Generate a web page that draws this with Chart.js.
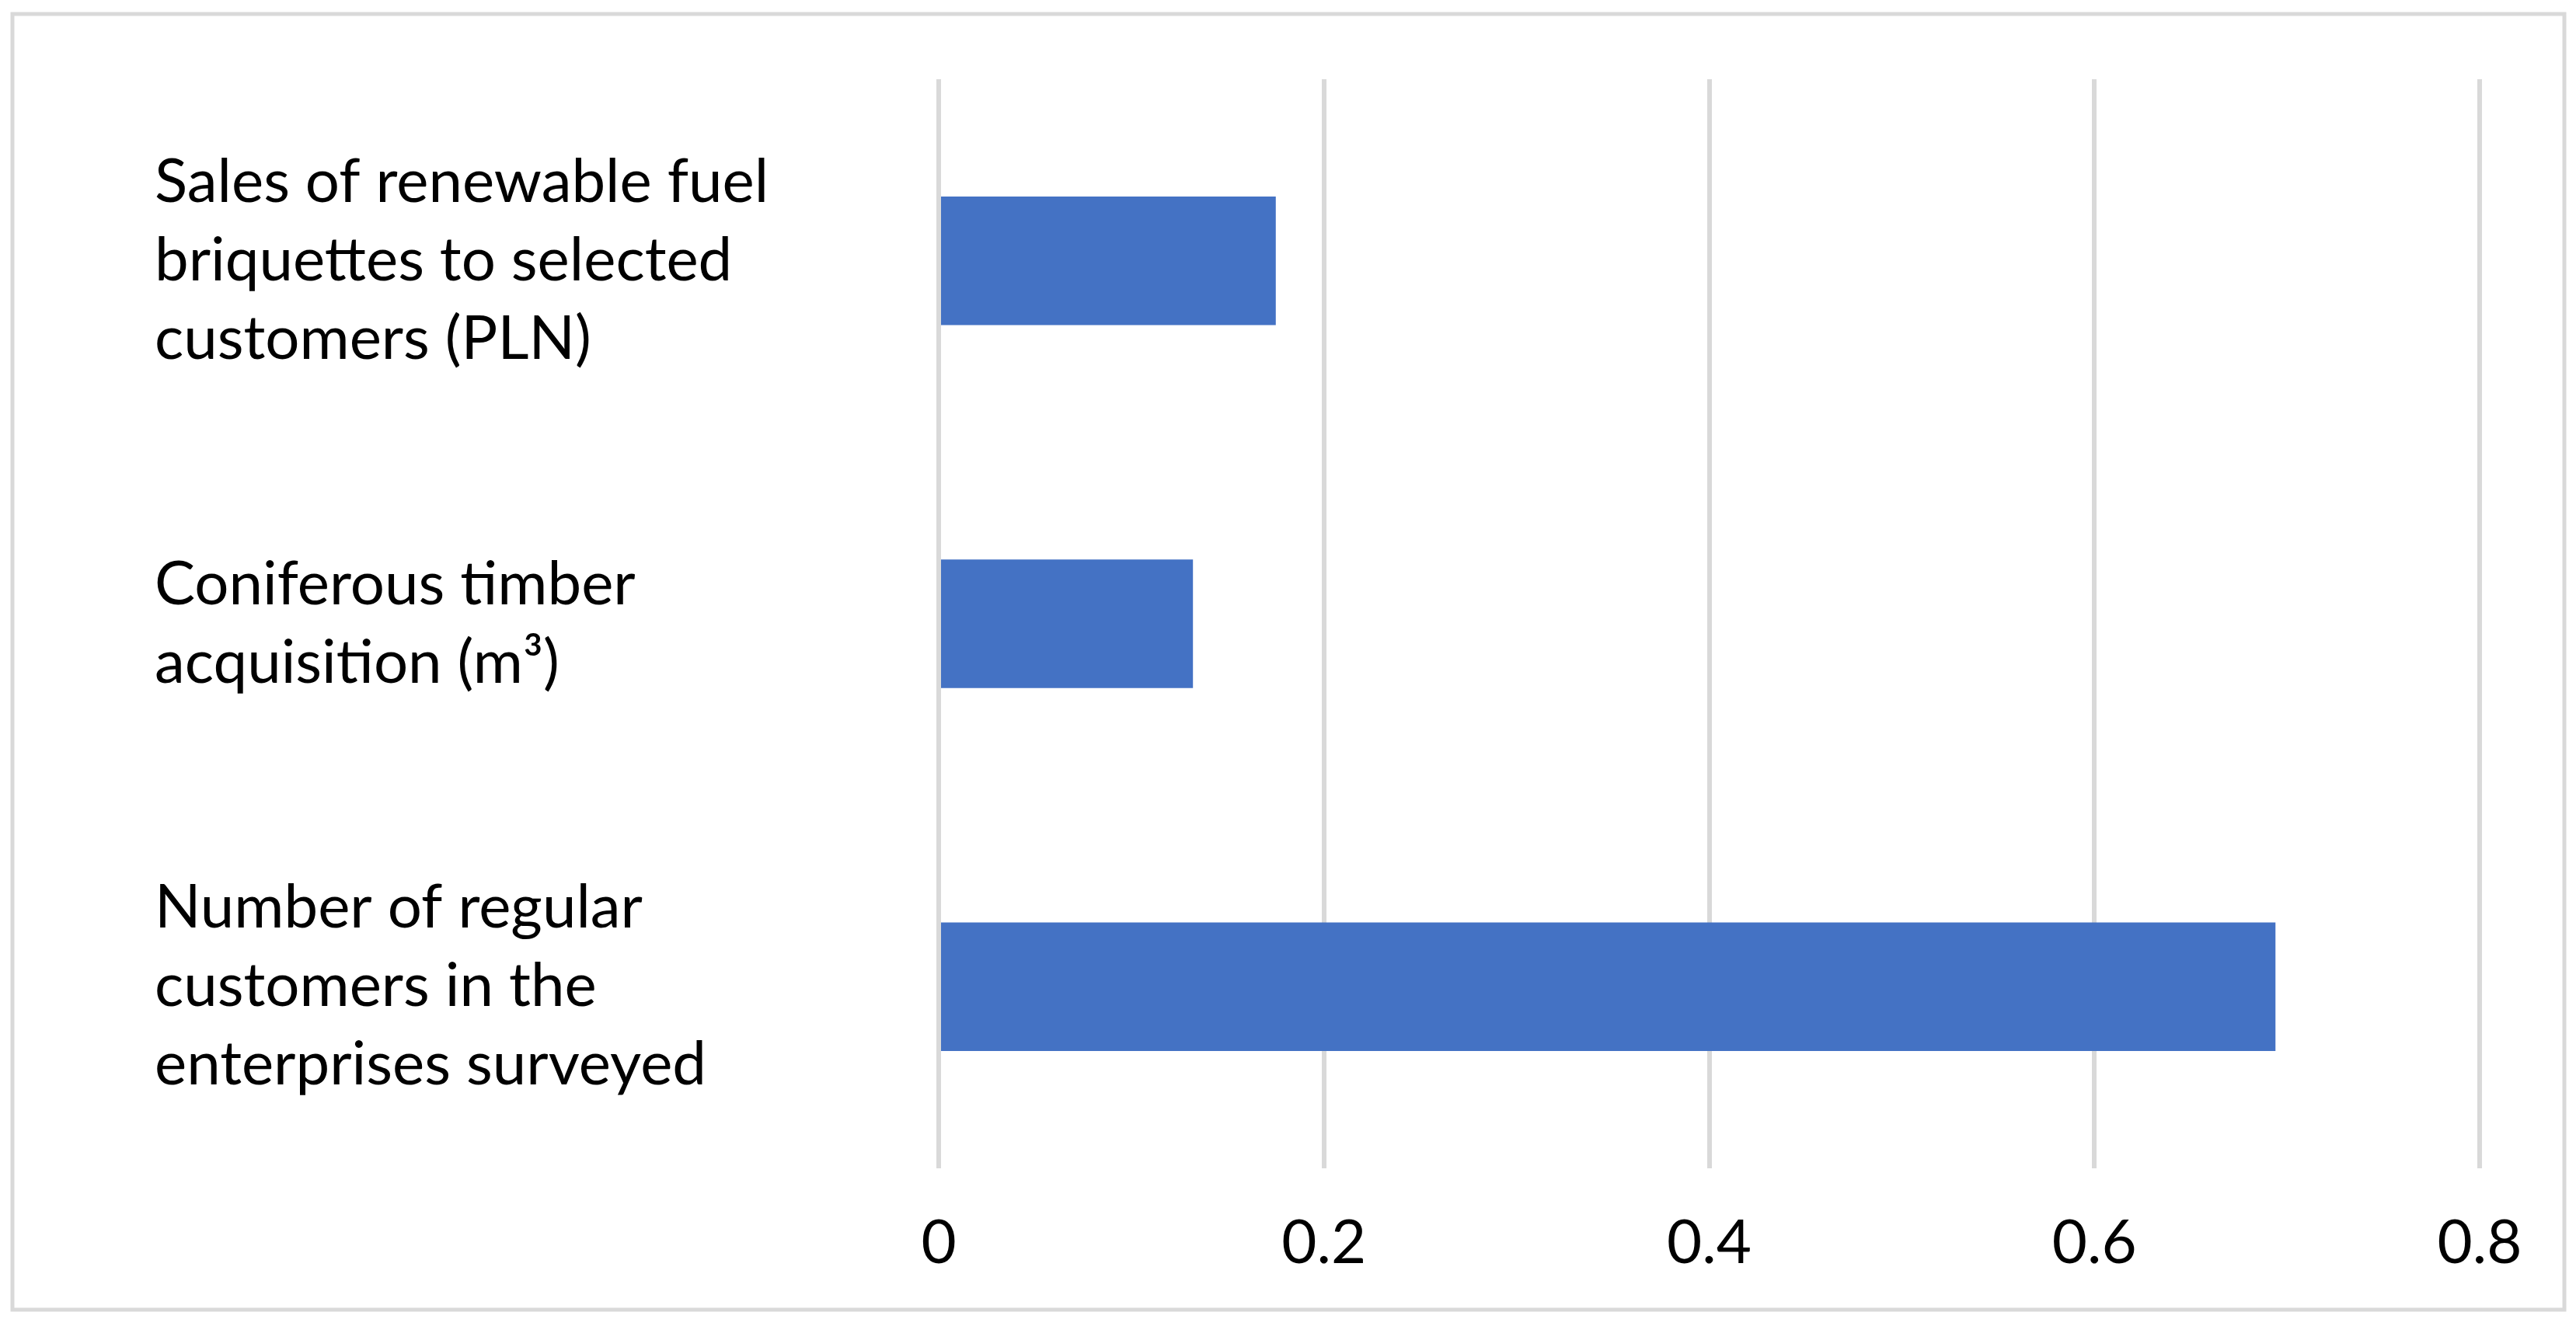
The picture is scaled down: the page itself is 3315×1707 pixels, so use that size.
<!DOCTYPE html>
<html>
<head>
<meta charset="utf-8">
<script src="https://cdn.jsdelivr.net/npm/chart.js@4.4.0/dist/chart.umd.min.js"></script>
<style>
  html, body { margin: 0; padding: 0; background: #ffffff; }
  #wrap { position: relative; width: 3315px; height: 1707px; }
</style>
</head>
<body>
<div id="wrap"><canvas id="c" width="3315" height="1707"></canvas></div>
<script>
// ---- data ----
const categories = [
  ["Sales of renewable fuel", "briquettes to selected", "customers (PLN)"],
  ["Coniferous timber", "acquisition (m\u00B3)"],
  ["Number of regular", "customers in the", "enterprises surveyed"]
];
const values = [0.175, 0.132, 0.694];
const xTicks = [0, 0.2, 0.4, 0.6, 0.8];

const FONT = "Lato, 'Open Sans', sans-serif";
const FS = 78;

const borderPlugin = {
  id: 'outerBorder',
  beforeDraw(chart) {
    const ctx = chart.ctx;
    ctx.save();
    ctx.fillStyle = '#ffffff';
    ctx.fillRect(0, 0, chart.width, chart.height);
    ctx.strokeStyle = '#d9d9d9';
    ctx.lineWidth = 5;
    ctx.strokeRect(16, 18, 3284, 1668);
    ctx.restore();
  }
};

new Chart(document.getElementById('c'), {
  type: 'bar',
  data: {
    labels: categories,
    datasets: [{
      data: values,
      backgroundColor: '#4472c4',
      borderWidth: 0,
      categoryPercentage: 1,
      barPercentage: 0.354
    }]
  },
  options: {
    indexAxis: 'y',
    responsive: false,
    animation: false,
    devicePixelRatio: 1,
    layout: { padding: { left: 199, top: 102, right: 124, bottom: 0 } },
    plugins: { legend: { display: false }, tooltip: { enabled: false } },
    scales: {
      x: {
        min: 0, max: 0.8,
        afterBuildTicks(axis) { axis.ticks = xTicks.map(v => ({ value: v })); },
        afterFit(axis) { axis.height = 203; axis.paddingLeft = 0; axis.paddingRight = 0; },
        grid: { color: '#d9d9d9', lineWidth: 6, drawTicks: false },
        border: { display: false },
        ticks: {
          color: '#000000',
          font: { family: FONT, size: FS },
          padding: 50,
          callback: v => String(v)
        }
      },
      y: {
        afterFit(axis) { axis.width = 1009; axis.paddingTop = 0; axis.paddingBottom = 0; },
        grid: { display: false, drawTicks: false },
        border: { display: false },
        ticks: {
          crossAlign: 'far',
          color: '#000000',
          font: { family: FONT, size: FS, lineHeight: 101 / FS },
          padding: 0
        }
      }
    }
  },
  plugins: [borderPlugin]
});
</script>
</body>
</html>
